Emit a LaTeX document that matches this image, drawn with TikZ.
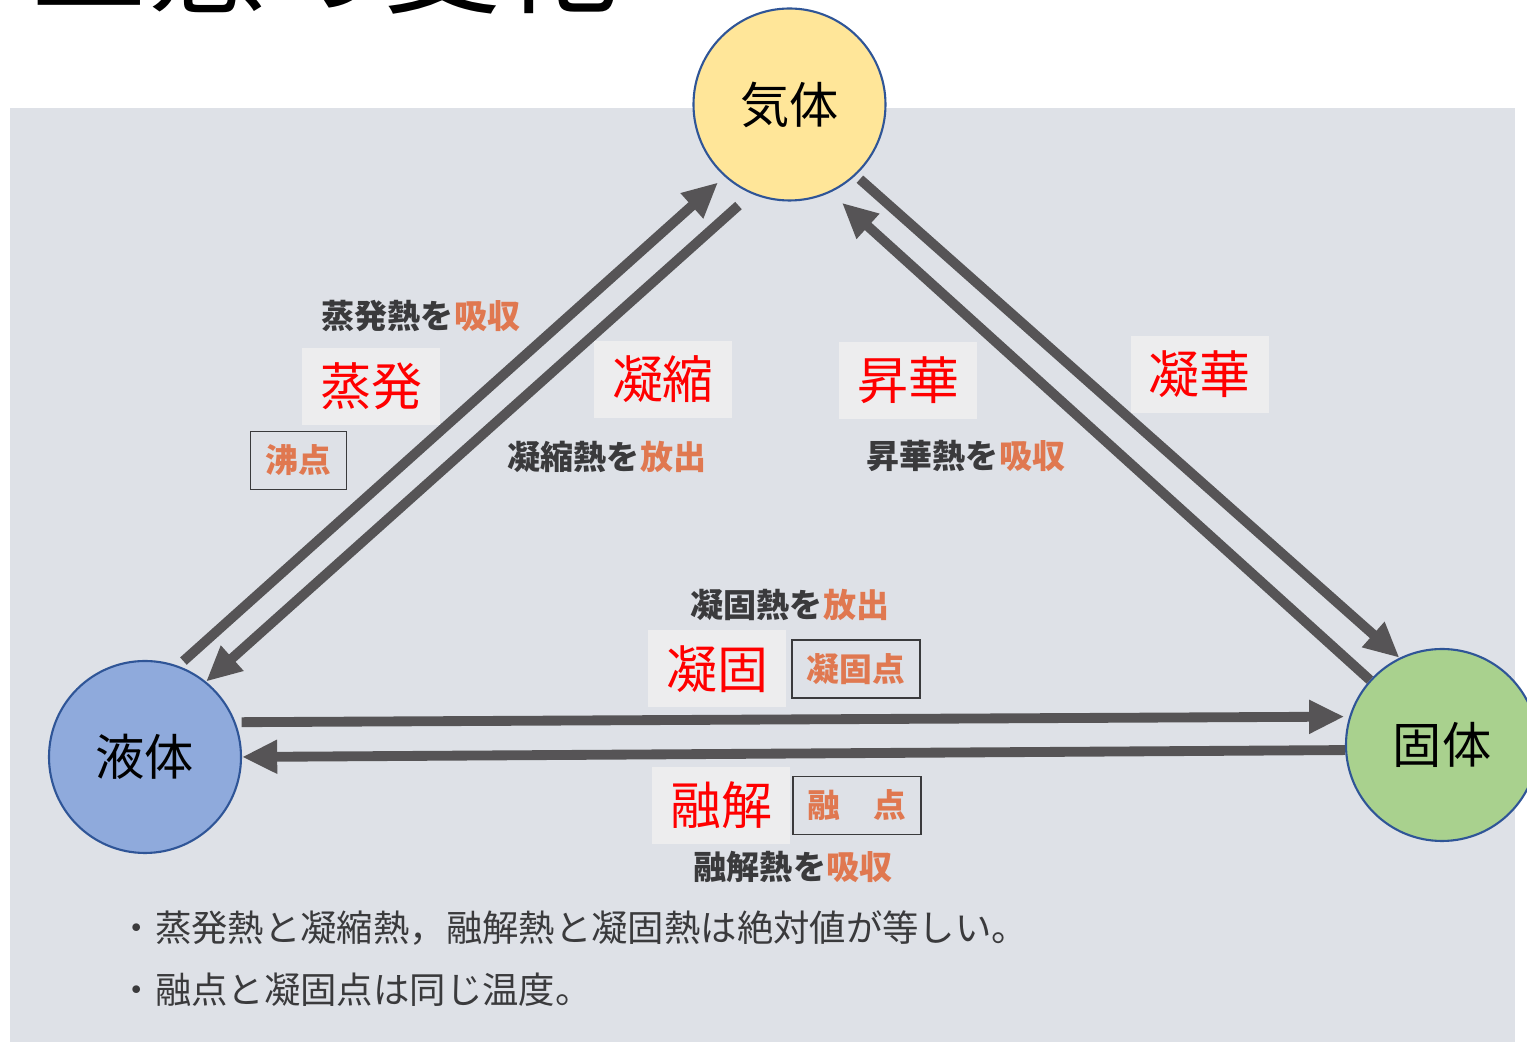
\documentclass[tikz,border=0pt]{standalone}
\usepackage{fontspec}
\newfontfamily\jp{Noto Sans CJK JP}
\usetikzlibrary{arrows.meta}
\definecolor{pagegrey}{RGB}{222,225,231}
\definecolor{boxgrey}{RGB}{237,237,238}
\definecolor{arrowgrey}{RGB}{86,84,86}
\definecolor{rim}{RGB}{47,85,151}
\definecolor{gasfill}{RGB}{255,230,153}
\definecolor{liqfill}{RGB}{143,170,220}
\definecolor{solfill}{RGB}{169,209,142}
\definecolor{warm}{RGB}{224,120,80}
\definecolor{ink}{RGB}{58,58,60}

\begin{document}
\begin{tikzpicture}[x=0.1mm, y=-0.1mm, node distance={13.8mm},
    state/.style = {draw=rim, line width=0.6pt, circle, minimum size=19.2mm, inner sep=0pt, font=\jp\fontsize{14}{16}\selectfont},
    arr/.style = {draw=arrowgrey, line width=2.8pt, -{Triangle[length=10pt, width=9pt]}},
    change/.style = {fill=boxgrey, text=red, minimum width=13.8mm, minimum height=7.7mm, inner sep=0pt, font=\jp\fontsize{14.5}{16}\selectfont},
    heat/.style = {text=ink, inner sep=0pt, font=\jp\bfseries\fontsize{9.4}{11}\selectfont},
    temp/.style = {draw=ink, line width=0.5pt, text=warm, minimum height=5.8mm, inner sep=0pt, font=\jp\bfseries\fontsize{9.3}{11}\selectfont},
    note/.style = {text=ink, anchor=west, inner sep=0pt, font=\jp\fontsize{10.35}{12}\selectfont}]
    \useasboundingbox[fill=white] (0,0) rectangle (1527,1042);
    \fill[pagegrey] (10,108) rectangle (1515,1042);
    \node[anchor=base west, inner sep=0pt, font=\jp\fontsize{33.5}{36}\selectfont] (t) at (30,5) {三態の変化};

    \node[state, fill=gasfill] (1) at (789.5,104.5) {気体};
    \node[state, fill=liqfill] (2) at (145,757) {液体};
    \node[state, fill=solfill] (3) at (1442,745) {固体};

    \draw[arr, shorten <=2pt, shorten >=2.5pt] (2.70) -- (1.228.5);
    \draw[arr, shorten <=5pt] (1.247) -- (2.51);
    \draw[arr, shorten <=1.6pt] (1.313.8) -- (3.116.6);
    \draw[arr, shorten >=4.4pt] (3.138) -- (1.295.8);
    \draw[arr, shorten <=1.7pt, shorten >=1.4pt] (2.21.3) -- (3.163.4);
    \draw[arr] (3.183) -- (2.0);

    \node[change] (l1) at (371,386.5) {蒸発};
    \node[change] (l2) at (663,379.5) {凝縮};
    \node[change] (l3) at (908,380.5) {昇華};
    \node[change] (l4) at (1199.5,374.5) {凝華};
    \node[change] (l5) at (717,669) {凝固};
    \node[change] (l6) at (721,805.5) {融解};

    \node[heat] (h1) at (421,316) {蒸発熱を\textcolor{warm}{吸収}};
    \node[heat] (h2) at (607,457) {凝縮熱を\textcolor{warm}{放出}};
    \node[heat] (h3) at (966,456) {昇華熱を\textcolor{warm}{吸収}};
    \node[heat] (h4) at (790,605) {凝固熱を\textcolor{warm}{放出}};
    \node[heat] (h5) at (793,867) {融解熱を\textcolor{warm}{吸収}};

    \node[temp, minimum width=9.6mm] (p1) at (298.5,460.5) {沸点};
    \node[temp, minimum width=12.8mm] (p2) [right of=l5, node distance={13.9mm}] {凝固点};
    \node[temp, minimum width=12.8mm] (p3) [right of=l6, node distance={13.6mm}] {融　点};

    \node[note] (n1) at (118,928) {・蒸発熱と凝縮熱，融解熱と凝固熱は絶対値が等しい。};
    \node[note] (n2) at (118,990) {・融点と凝固点は同じ温度。};
\end{tikzpicture}
\end{document}
